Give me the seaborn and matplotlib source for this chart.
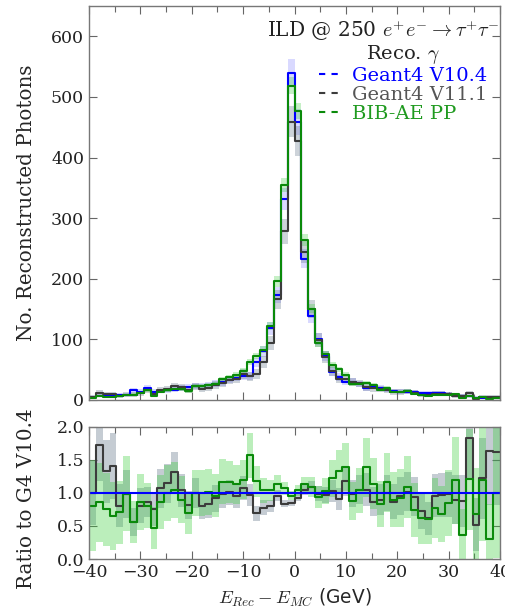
import numpy as np
import pandas as pd
import matplotlib
matplotlib.use("Agg")
import matplotlib.pyplot as plt
import seaborn as sns
from matplotlib.lines import Line2D
from matplotlib.ticker import MultipleLocator, FormatStrFormatter

# ---- data ----
bin_edges = np.linspace(-40, 40, 61)
bin_centers = 0.5 * (bin_edges[:-1] + bin_edges[1:])

blue_counts = [5, 7, 7, 7, 9, 9, 16, 14, 20, 14,
               15, 16, 17, 20, 21, 23, 23, 24, 27, 29,
               33, 37, 40, 40, 62, 80, 118, 173, 331, 540,
               459, 233, 138, 100, 73, 47, 38, 30, 30, 26,
               20, 22, 20, 17, 15, 14, 14, 13, 12, 12,
               11, 11, 10, 8, 7, 6, 4, 4, 3, 3]

gray_ratio = [1.00, 1.73, 1.33, 1.41, 0.81, 0.99, 0.56, 0.81, 0.86, 0.75,
              1.07, 1.15, 1.32, 1.04, 0.82, 1.00, 0.81, 0.83, 0.92, 0.98,
              1.01, 0.95, 1.07, 0.97, 0.69, 0.78, 0.80, 0.96, 0.84, 0.85,
              0.93, 1.05, 1.09, 0.99, 0.97, 1.03, 0.91, 1.18, 0.99, 1.05,
              1.05, 0.87, 0.90, 1.00, 0.87, 0.96, 1.02, 0.94, 0.72, 0.62,
              0.96, 0.97, 0.98, 0.90, 0.88, 1.83, 0.52, 1.22, 1.63, 1.62]

green_ratio = [0.81, 0.86, 0.75, 0.65, 0.71, 0.99, 0.56, 0.86, 0.81, 0.47,
               0.86, 1.00, 1.05, 0.90, 0.69, 1.00, 1.00, 1.02, 0.96, 1.17,
               1.16, 1.13, 1.20, 1.57, 1.18, 1.04, 1.04, 1.13, 1.07, 0.96,
               1.04, 1.13, 1.09, 0.94, 1.03, 1.22, 1.33, 1.39, 0.88, 1.04,
               1.39, 1.14, 0.84, 1.16, 0.90, 0.92, 1.09, 0.74, 0.62, 0.60,
               0.77, 0.68, 0.85, 1.19, 0.37, 1.21, 0.68, 1.20, 0.30, 1.00]

labels = ["Geant4 V10.4", "Geant4 V11.1", "BIB-AE PP"]
line_colors = ["#0000ff", "#3c3c3c", "#0a8a0a"]
text_colors = ["#0000ff", "#555555", "#1f9a1f"]
band_colors = ["#0000ff", "#5a6e82", "#33cc33"]
band_alpha = [0.15, 0.30, 0.28]
# per-sample statistical scale (sample size relative to the shown normalisation)
stat_scale_top = [1.0, 1.2, 0.6]
stat_scale_ratio = [1.0, 1.1, 1.7]

# ---- derived ----
blue = np.array(blue_counts, float)
gray = blue * np.array(gray_ratio)
green = blue * np.array(green_ratio)
df = pd.DataFrame({"E": bin_centers, "blue": blue, "gray": gray, "green": green})

sns.set_theme(style="ticks")
plt.rcParams['font.family'] = ['DejaVu Serif']
plt.rcParams['mathtext.fontset'] = 'cm'

fig = plt.figure(figsize=(5.05, 6.09), dpi=100)
ax1 = fig.add_axes([0.1762, 0.3432, 0.814, 0.647])
ax2 = fig.add_axes([0.1762, 0.0821, 0.814, 0.2168])

BW = 80.0 / 60.0


def stepband(ax, lo, hi, color, alpha):
    ax.fill_between(bin_edges, np.append(lo, lo[-1]), np.append(hi, hi[-1]),
                    step="post", color=color, alpha=alpha, lw=0)


# top panel
for key, bc, ba, k in zip(["blue", "gray", "green"], band_colors, band_alpha, stat_scale_top):
    vals = df[key].values
    err = k * np.sqrt(vals)
    stepband(ax1, vals - err, vals + err, bc, ba)
for key, lc in zip(["blue", "gray", "green"], line_colors):
    sns.histplot(data=df, x="E", weights=key, binwidth=BW, binrange=(-40, 40),
                 element="step", fill=False, color=lc, linewidth=1.5, ax=ax1)

# ratio panel
for key, bc, ba, k in zip(["gray", "green"], band_colors[1:], band_alpha[1:], stat_scale_ratio[1:]):
    vals = df[key].values
    r = vals / blue
    err = k * np.sqrt(vals) / blue
    stepband(ax2, r - err, r + err, bc, ba + 0.05)
for key, lc in zip(["gray", "green"], line_colors[1:]):
    dd = pd.DataFrame({"E": bin_centers, "r": df[key].values / blue})
    sns.histplot(data=dd, x="E", weights="r", binwidth=BW, binrange=(-40, 40),
                 element="step", fill=False, color=lc, linewidth=1.5, ax=ax2)
ax2.axhline(1.0, color=line_colors[0], lw=1.5)

for ax in (ax1, ax2):
    ax.set_xlim(-40, 40)
    ax.xaxis.set_major_locator(MultipleLocator(10))
    ax.xaxis.set_minor_locator(MultipleLocator(5))
    ax.tick_params(which="both", direction="in", top=True, right=True,
                   labelsize=12.5, labelcolor="#222222")
    ax.tick_params(which="major", length=6, width=0.8, color="#666666")
    ax.tick_params(which="minor", length=4, width=0.8, color="#666666")
    for s in ax.spines.values():
        s.set_color("#777777")
        s.set_linewidth(1.0)

ax1.set_ylim(0, 650)
ax1.yaxis.set_major_locator(MultipleLocator(100))
ax1.set_xlabel("")
ax1.tick_params(labelbottom=False)
ax1.set_ylabel("No. Reconstructed Photons", fontsize=14.3)
ax1.yaxis.set_label_coords(-0.128, 0.5)

ax2.set_ylim(0, 2)
ax2.yaxis.set_major_locator(MultipleLocator(0.5))
ax2.yaxis.set_major_formatter(FormatStrFormatter("%.1f"))
ax2.set_ylabel("Ratio to G4 V10.4", fontsize=14.3)
ax2.yaxis.set_label_coords(-0.128, 0.46)
ax2.set_xlabel("$E_{Rec} - E_{MC}$ (GeV)", fontsize=13.4, family="DejaVu Sans")

ax1.text(0.999, 0.968, "ILD @ 250 $e^{+}e^{-} \\rightarrow \\tau^{+}\\tau^{-}$",
         transform=ax1.transAxes, ha="right", va="top", fontsize=14.5, color="#222222")

handles = [Line2D([0], [0], color=c, ls=(0, (3, 3)), lw=1.5) for c in line_colors]
leg = ax1.legend(handles, labels, title="Reco. $\\gamma$",
                 loc="upper right", bbox_to_anchor=(0.968, 0.906), frameon=False,
                 fontsize=14, title_fontsize=14, labelcolor=text_colors,
                 handlelength=1.0, handletextpad=0.67, borderpad=0.0,
                 borderaxespad=0.0, labelspacing=0.05)
leg._legend_box.align = "center"
leg.get_title().set_color("#222222")

fig.savefig("out.png", dpi=100)
